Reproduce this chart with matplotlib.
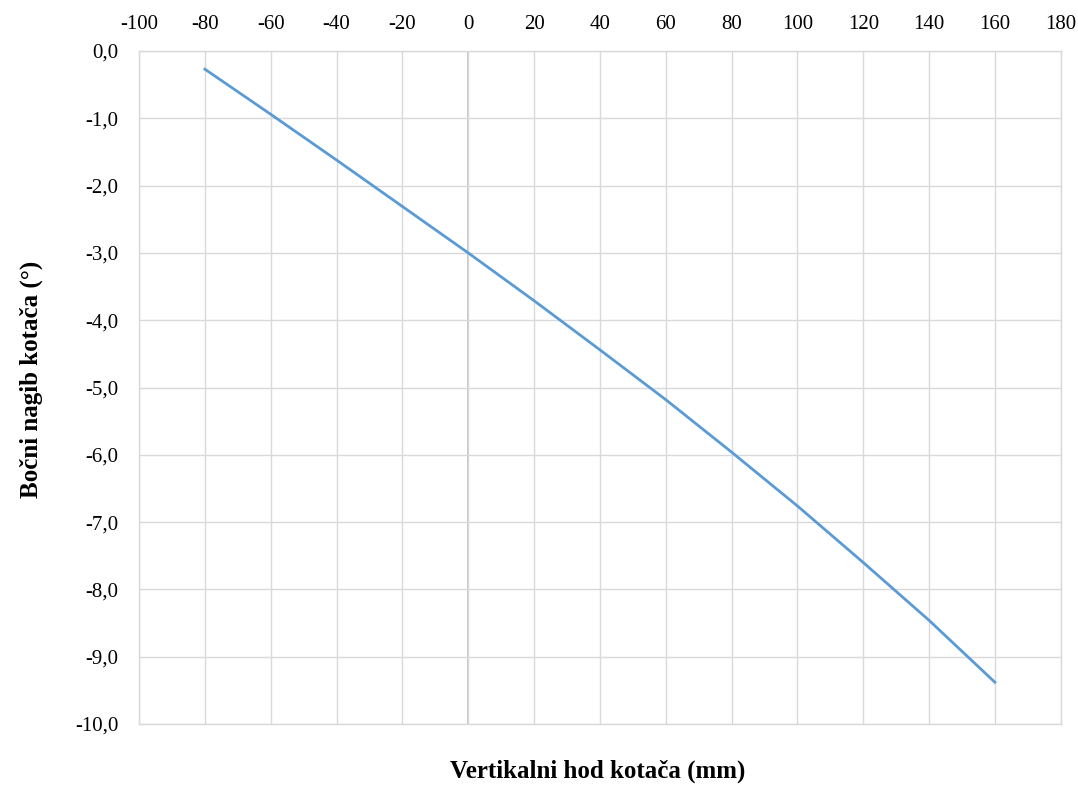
import numpy as np
import matplotlib.pyplot as plt
from matplotlib.ticker import FuncFormatter, MultipleLocator

# data
hod = [-80, -60, -40, -20, 0, 20, 40, 60, 80, 100, 120, 140, 160]
nagib = [-0.27, -0.94, -1.62, -2.31, -3.0, -3.71, -4.44, -5.18, -5.96, -6.76, -7.6, -8.46, -9.38]

plt.rcParams['font.family'] = ['Liberation Serif', 'DejaVu Serif']

fig = plt.figure(figsize=(10.78, 7.85), dpi=100)
ax = fig.add_axes([0.129, 0.0777, 0.855, 0.8573])

ax.plot(hod, nagib, color='#5b9bd5', lw=2.0, zorder=3)

ax.set_xlim(-100, 180)
ax.set_ylim(-10, 0)
ax.xaxis.set_major_locator(MultipleLocator(20))
ax.yaxis.set_major_locator(MultipleLocator(1))
ax.yaxis.set_major_formatter(FuncFormatter(lambda v, p: ('%.1f' % v).replace('.', ',').replace('-0,0', '0,0')))
ax.xaxis.set_major_formatter(FuncFormatter(lambda v, p: '%d' % v))

ax.xaxis.tick_top()
ax.tick_params(axis='both', length=0, labelsize=15, colors='#000000')
ax.tick_params(axis='x', pad=12)
ax.tick_params(axis='y', pad=15)

ax.grid(True, color='#d9d9d9', lw=1.0, zorder=0)
for s in ax.spines.values():
  s.set_color('#d9d9d9')
  s.set_linewidth(1.0)
ax.axvline(0, color='#bfbfbf', lw=1.3, zorder=1)

fig.text(0.554, 0.018, 'Vertikalni hod kotača (mm)', ha='center', va='center',
         fontsize=18, fontweight='bold')
fig.text(0.029, 0.517, 'Bočni nagib kotača (°)', ha='center', va='center',
         rotation=90, fontsize=18, fontweight='bold')

fig.savefig('out.png', dpi=100)
